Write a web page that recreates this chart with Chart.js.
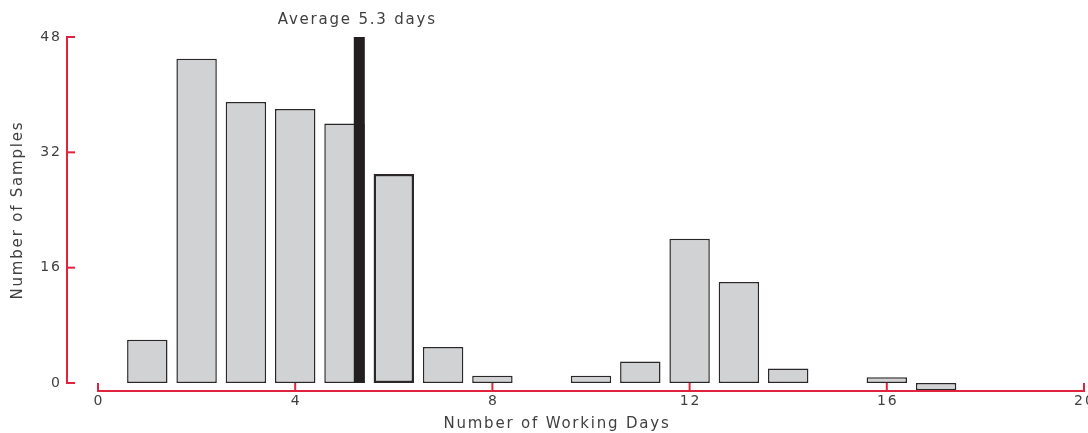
<!DOCTYPE html>
<html>
<head>
<meta charset="utf-8">
<script src="https://cdn.jsdelivr.net/npm/chart.js@4"></script>
<style>
    body { margin: 0; background: #fff; }
    #wrap { width: 1088px; height: 433px; }
</style>
</head>
<body>
<div id="wrap"><canvas id="grafico"></canvas></div>
<script>
// dati
const giorni = [1, 2, 3, 4, 5, 6, 7, 8, 10, 11, 12, 13, 14, 16, 17];
const campioni = [6, 45, 39, 38, 36, 29, 5, 1, 1, 3, 20, 14, 2, 0.8, -1];
const media = 5.3;
const tickX = [0, 4, 8, 12, 16, 20];
const tickY = [0, 16, 32, 48];

const rosso = '#e1233d';
const testo = '#3f3f3f';
const font = '"DejaVu Sans", sans-serif';

// assi staccati disegnati sopra le scale del grafico
const assiPlugin = {
    id: 'assi',
    afterDraw(chart) {
        const ctx = chart.ctx;
        const x = chart.scales.x;
        const y = chart.scales.y;
        const area = chart.chartArea;
        const assY = area.left - 31;
        const assX = area.bottom + 8;

        ctx.save();
        ctx.strokeStyle = rosso;
        ctx.lineWidth = 2;

        // asse verticale
        ctx.beginPath();
        ctx.moveTo(assY, y.getPixelForValue(48) - 1);
        ctx.lineTo(assY, y.getPixelForValue(0) + 1);
        ctx.stroke();
        tickY.forEach(v => {
            const py = y.getPixelForValue(v);
            ctx.beginPath();
            ctx.moveTo(assY - 1, py);
            ctx.lineTo(assY + 8, py);
            ctx.stroke();
        });

        // asse orizzontale
        ctx.beginPath();
        ctx.moveTo(x.getPixelForValue(0) - 1, assX);
        ctx.lineTo(x.getPixelForValue(20) + 1, assX);
        ctx.stroke();
        tickX.forEach(v => {
            const px = x.getPixelForValue(v);
            ctx.beginPath();
            ctx.moveTo(px, assX + 1);
            ctx.lineTo(px, assX - 8);
            ctx.stroke();
        });

        ctx.fillStyle = testo;
        ctx.font = '14px ' + font;
        ctx.letterSpacing = '2px';
        ctx.textAlign = 'right';
        ctx.textBaseline = 'middle';
        tickY.forEach(v => {
            ctx.fillText(String(v), assY - 5, y.getPixelForValue(v));
        });
        ctx.textAlign = 'center';
        ctx.textBaseline = 'top';
        tickX.forEach(v => {
            ctx.fillText(String(v), x.getPixelForValue(v) + 1, assX + 3);
        });

        // titoli
        ctx.font = '15px ' + font;
        ctx.letterSpacing = '1.8px';
        ctx.textBaseline = 'middle';
        ctx.fillText('Number of Working Days', 557, 424);
        ctx.fillText('Average ' + media + ' days', x.getPixelForValue(media) - 2, 20);

        ctx.translate(18, (y.getPixelForValue(0) + y.getPixelForValue(48)) / 2);
        ctx.rotate(-Math.PI / 2);
        ctx.fillText('Number of Samples', 0, 0);
        ctx.restore();
    }
};

const ctx = document.getElementById('grafico').getContext('2d');
new Chart(ctx, {
    type: 'bar',
    data: {
        datasets: [{
            label: 'Number of Samples',
            data: giorni.map((g, i) => ({ x: g, y: campioni[i] })),
            backgroundColor: '#d1d2d4',
            borderColor: '#2b2728',
            borderWidth: giorni.map(g => g === 6 ? 2.5 : 1.5),
            borderSkipped: false,
            barPercentage: 0.82,
            categoryPercentage: 1,
            clip: false,
            order: 1
        }, {
            type: 'line',
            label: 'Average',
            data: [{ x: media, y: 0 }, { x: media, y: 48 }],
            borderColor: '#231f20',
            borderWidth: 11,
            borderCapStyle: 'butt',
            pointRadius: 0,
            order: 0
        }]
    },
    options: {
        responsive: true,
        maintainAspectRatio: false,
        animation: false,
        layout: { padding: { left: 98, right: 4, top: 37, bottom: 50 } },
        scales: {
            x: { type: 'linear', min: 0, max: 20, offset: false, display: false },
            y: { min: 0, max: 48, display: false }
        },
        plugins: {
            legend: { display: false },
            tooltip: { enabled: false }
        }
    },
    plugins: [assiPlugin]
});
</script>
</body>
</html>
